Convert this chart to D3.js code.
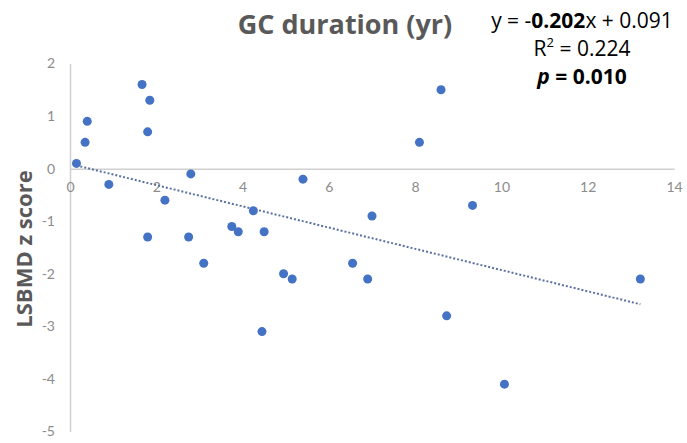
<!DOCTYPE html>
<html>
<head>
<meta charset="utf-8">
<script src="https://cdn.jsdelivr.net/npm/d3@7"></script>
<style>
  html, body { margin: 0; padding: 0; background: #fff; }
  svg { display: block; }
</style>
</head>
<body>
<svg id="chart" width="687" height="443"></svg>
<script>
// ---- data ----
const gcDuration = [0.15, 0.35, 0.4, 0.9, 1.67, 1.85, 1.8, 1.8, 2.2, 2.8, 2.75, 3.1, 3.75, 3.9, 4.25, 4.5, 4.95, 5.15, 5.4, 4.45, 8.6, 8.1, 7.0, 9.33, 6.55, 6.9, 8.73, 10.07, 13.22];
const zScore     = [0.1, 0.5, 0.9, -0.3, 1.6, 1.3, 0.7, -1.3, -0.6, -0.1, -1.3, -1.8, -1.1, -1.2, -0.8, -1.2, -2.0, -2.1, -0.2, -3.1, 1.5, 0.5, -0.9, -0.7, -1.8, -2.1, -2.8, -4.1, -2.1];
const xTicks = [0, 2, 4, 6, 8, 10, 12, 14];
const yTicks = [2, 1, 0, -1, -2, -3, -4, -5];
const slope = -0.202;
const intercept = 0.091;
const titleText = "GC duration (yr)";
const yLabelText = "LSBMD z score";

// ---- layout ----
const svg = d3.select("#chart");
const x = d3.scaleLinear().domain([0, 14]).range([70, 674]);
const y = d3.scaleLinear().domain([-5, 2]).range([431.5, 63.5]);

const axisColor = "#d0d0d0";
const tickColor = "#8c8c8c";
const font = "Lato, 'Open Sans', sans-serif";
const font2 = "'Open Sans', Lato, sans-serif";
const fmt = d => String(d);

// y axis line
svg.append("g")
  .attr("transform", `translate(${x(0)},0)`)
  .call(d3.axisLeft(y).tickValues(yTicks).tickSize(0).tickPadding(15).tickFormat(fmt))
  .call(g => g.select(".domain").attr("stroke", axisColor).attr("stroke-width", 1.5))
  .call(g => g.selectAll("text").attr("fill", tickColor).style("font-family", font).style("font-size", "14px"));

// x axis line at y=0
svg.append("g")
  .attr("transform", `translate(0,${y(0)})`)
  .call(d3.axisBottom(x).tickValues(xTicks).tickSize(0).tickPadding(13).tickFormat(fmt))
  .call(g => g.select(".domain").attr("stroke", axisColor).attr("stroke-width", 1.5))
  .call(g => g.selectAll("text").attr("fill", tickColor).style("font-family", font).style("font-size", "14px"));

// trend line
const xExt = d3.extent(gcDuration);
const line = d3.line().x(d => x(d)).y(d => y(slope * d + intercept));
svg.append("path")
  .datum(xExt)
  .attr("d", line)
  .attr("fill", "none")
  .attr("stroke", "#5b72a0")
  .attr("stroke-width", 2)
  .attr("stroke-dasharray", "2,2");

// points
svg.append("g").selectAll("circle")
  .data(gcDuration.map((d, i) => [d, zScore[i]]))
  .join("circle")
  .attr("cx", d => x(d[0]))
  .attr("cy", d => y(d[1]))
  .attr("r", 4.5)
  .attr("fill", "#4472c4");

// title
svg.append("text")
  .attr("x", 345).attr("y", 34)
  .attr("text-anchor", "middle")
  .attr("fill", "#595959")
  .style("font-family", font2).style("font-weight", "bold").style("font-size", "27px")
  .text(titleText);

// y label
svg.append("text")
  .attr("transform", "translate(32,249) rotate(-90)")
  .attr("text-anchor", "middle")
  .attr("fill", "#595959")
  .style("font-family", font2).style("font-weight", "bold").style("font-size", "22px")
  .text(yLabelText);

// equation block
const eq = svg.append("g").style("font-family", font2).style("font-size", "21px").attr("fill", "#000");
const t1 = eq.append("text").attr("x", 582).attr("y", 28).attr("text-anchor", "middle");
t1.append("tspan").text("y = -");
t1.append("tspan").style("font-weight", "bold").text(Math.abs(slope).toFixed(3));
t1.append("tspan").text("x + " + intercept.toFixed(3));
const t2 = eq.append("text").attr("x", 582).attr("y", 56).attr("text-anchor", "middle");
t2.append("tspan").text("R");
t2.append("tspan").attr("baseline-shift", "super").style("font-size", "13px").text("2");
t2.append("tspan").text(" = 0.224");
const t3 = eq.append("text").attr("x", 582).attr("y", 84).attr("text-anchor", "middle").style("font-weight", "bold");
t3.append("tspan").style("font-style", "italic").text("p");
t3.append("tspan").text(" = 0.010");
</script>
</body>
</html>
